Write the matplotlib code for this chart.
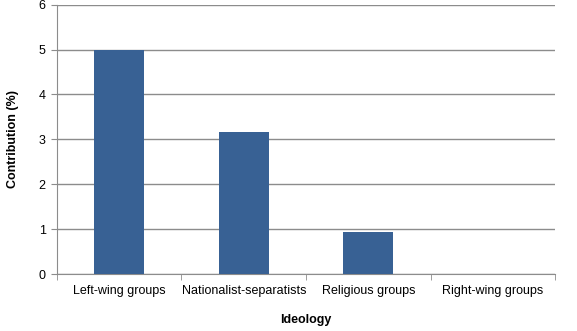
import matplotlib.pyplot as plt

plt.rcParams['font.family'] = ['Liberation Sans', 'DejaVu Sans']

ideologies = ["Left-wing groups", "Nationalist-separatists", "Religious groups", "Right-wing groups"]
contribution = [4.98, 3.16, 0.94, 0.0]

fig = plt.figure(figsize=(5.77, 3.31), dpi=100)
ax = fig.add_axes([0.0985, 0.172, 0.864, 0.814])

x = range(len(ideologies))
ax.bar(x, contribution, width=0.40, color="#386194", zorder=3)

ax.set_xlim(-0.5, len(ideologies) - 0.5)
ax.set_ylim(0, 6)
ax.set_yticks(range(0, 7))
ax.yaxis.grid(True, color="#8c8c8c", linewidth=1.0, zorder=0)

# category labels in the middle, tick marks between categories
ax.set_xticks(list(x))
ax.set_xticklabels(ideologies, fontsize=9)
ax.set_xticks([i - 0.5 for i in range(len(ideologies) + 1)], minor=True)
ax.tick_params(axis="x", which="major", length=0, pad=8)
ax.tick_params(axis="x", which="minor", length=4, color="#8c8c8c")
ax.tick_params(axis="y", length=4, color="#8c8c8c", labelsize=9, pad=4)

for side in ["top", "right"]:
    ax.spines[side].set_visible(False)
for side in ["left", "bottom"]:
    ax.spines[side].set_color("#8c8c8c")

ax.set_xlabel("Ideology", fontsize=9, fontweight="bold", labelpad=12)
ax.set_ylabel("Contribution (%)", fontsize=9, fontweight="bold", labelpad=14)

fig.savefig("out.png", dpi=100)
